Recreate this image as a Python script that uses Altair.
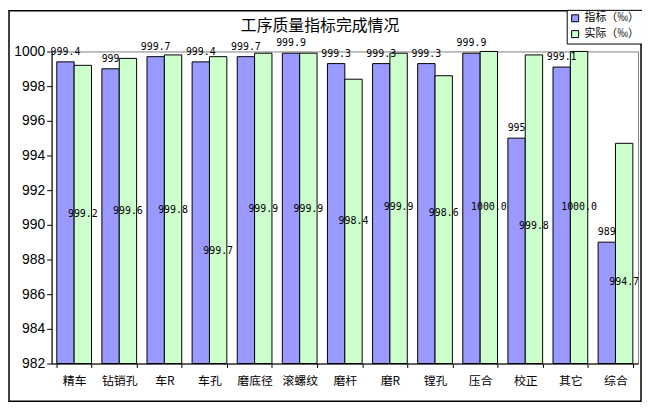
import altair as alt
import pandas as pd

chart_title = "工序质量指标完成情况"
categories = ["精车", "钻销孔", "车R", "车孔", "磨底径", "滚螺纹", "磨杆", "磨R", "镗孔", "压合", "校正", "其它", "综合"]
target = [999.4, 999.0, 999.7, 999.4, 999.7, 999.9, 999.3, 999.3, 999.3, 999.9, 995.0, 999.1, 989.0]
actual = [999.2, 999.6, 999.8, 999.7, 999.9, 999.9, 998.4, 999.9, 998.6, 1000.0, 999.8, 1000.0, 994.7]
# vertical position (axis units) where each "actual" value label sits in the picture
actual_label_pos = [990.6, 990.8, 990.85, 988.5, 990.9, 990.9, 990.2, 991.0, 990.7, 991.0, 989.95, 991.0, 986.7]
series_names = ["指标（‰）", "实际（‰）"]
y_ticks = [982, 984, 986, 988, 990, 992, 994, 996, 998, 1000]

rows = []
for i, c in enumerate(categories):
    rows.append({"cat": c, "series": series_names[0], "value": target[i],
                 "label": f"{target[i]:g}", "lpos": target[i]})
    rows.append({"cat": c, "series": series_names[1], "value": actual[i],
                 "label": f"{actual[i]:.1f}", "lpos": actual_label_pos[i]})
df = pd.DataFrame(rows)

xscale = alt.Scale(paddingInner=0.23, paddingOuter=0.115)
xaxis = alt.Axis(labelAngle=0, tickBand="extent", domainColor="black",
                 tickColor="black", tickSize=4, labelFontSize=12,
                 labelFont="Noto Sans CJK SC", labelColor="black",
                 labelPadding=8, title=None)
yscale = alt.Scale(domain=[982, 1000], nice=False, zero=False)
yaxis = alt.Axis(values=y_ticks, format="d", title=None, grid=False, domainColor="black",
                 tickColor="black", tickSize=5, labelFontSize=14, labelOverlap=False,
                 labelFont="Liberation Sans", labelColor="black", labelPadding=2)
xoff = alt.XOffset("series:N", sort=series_names, scale=alt.Scale(domain=series_names))


def xenc():
    return alt.X("cat:N", sort=categories, title=None, scale=xscale, axis=xaxis)


bars = alt.Chart(df).mark_bar(stroke="black", strokeWidth=1).encode(
    x=xenc(),
    xOffset=xoff,
    y=alt.Y("value:Q", scale=yscale, axis=yaxis, title=None),
    y2=alt.datum(982),
    color=alt.Color("series:N", sort=series_names,
                    scale=alt.Scale(domain=series_names, range=["#9999FF", "#CCFFCC"]),
                    legend=alt.Legend(title=None, orient="none", legendX=520, legendY=-42,
                                      strokeColor="black", fillColor="white", padding=3,
                                      symbolType="square", symbolSize=50,
                                      symbolStrokeColor="black", symbolStrokeWidth=1,
                                      labelFont="Noto Sans CJK SC", labelFontSize=11,
                                      labelColor="black", rowPadding=3, labelOffset=4)),
)

target_labels = alt.Chart(df).transform_filter(
    alt.datum.series == series_names[0]
).mark_text(font="DejaVu Sans Mono", fontSize=10, color="black", baseline="middle", dy=-10).encode(
    x=xenc(),
    xOffset=xoff,
    y=alt.Y("value:Q", scale=yscale, axis=yaxis, title=None),
    text="label:N",
)

actual_labels = alt.Chart(df).transform_filter(
    alt.datum.series == series_names[1]
).mark_text(font="DejaVu Sans Mono", fontSize=10, color="black", baseline="middle").encode(
    x=xenc(),
    xOffset=xoff,
    y=alt.Y("lpos:Q", scale=yscale, axis=yaxis, title=None),
    text="label:N",
)

title_mark = alt.Chart(pd.DataFrame({"a": [0]})).mark_text(
    font="Noto Sans CJK SC", fontSize=16, color="black", baseline="middle", align="center"
).encode(x=alt.value(271), y=alt.value(-26), text=alt.value(chart_title))

frame = alt.Chart(pd.DataFrame({"a": [0]})).mark_rect(
    filled=False, stroke="black", strokeWidth=1.5
).encode(x=alt.value(-43), x2=alt.value(595), y=alt.value(-41), y2=alt.value(353))

chart = alt.layer(bars, target_labels, actual_labels, title_mark, frame).properties(
    width=592, height=315,
    autosize=alt.AutoSizeParams(type="none"),
    padding={"left": 44, "top": 42, "right": 4, "bottom": 39},
    background="white",
).configure_view(stroke="#808080", strokeWidth=1)

chart.save("out.html", embed_options={"renderer": "svg", "actions": False})
